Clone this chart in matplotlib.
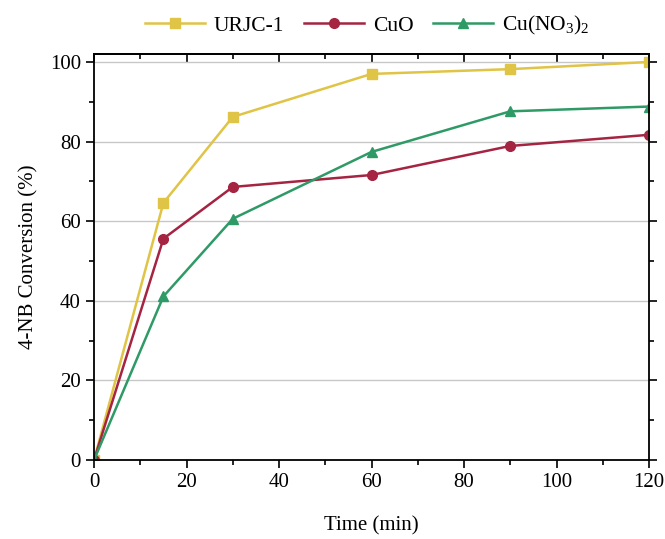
import matplotlib.pyplot as plt
from matplotlib.ticker import MultipleLocator, NullFormatter

plt.rcParams["font.family"] = ["Liberation Serif", "DejaVu Serif"]
plt.rcParams["mathtext.fontset"] = "custom"
plt.rcParams["mathtext.rm"] = "Liberation Serif"
plt.rcParams["mathtext.default"] = "regular"

time_min = [0, 15, 30, 60, 90, 120]
urjc1 = [0, 64.6, 86.2, 97.0, 98.2, 100.0]
cuo = [0, 55.6, 68.6, 71.6, 78.9, 81.7]
cu_no3 = [0, 41.1, 60.6, 77.4, 87.6, 88.8]

series = [
    ("URJC-1", urjc1, "#E0C445", "s"),
    ("CuO", cuo, "#A42442", "o"),
    ("Cu(NO$_3$)$_2$", cu_no3, "#2E9A66", "^"),
]

fig = plt.figure(figsize=(6.65, 5.39), dpi=100)
ax = fig.add_axes([0.1414, 0.1466, 0.8346, 0.7532])

for label, vals, color, marker in series:
    ax.plot(time_min, vals, color=color, marker=marker, ms=7, lw=1.8, label=label)

ax.set_xlim(0, 120)
ax.set_ylim(0, 102)
ax.xaxis.set_major_locator(MultipleLocator(20))
ax.xaxis.set_minor_locator(MultipleLocator(10))
ax.yaxis.set_major_locator(MultipleLocator(20))
ax.yaxis.set_minor_locator(MultipleLocator(10))

ax.grid(True, axis="y", which="major", color="#c8c8c8", lw=1)
ax.set_axisbelow(True)

ax.tick_params(axis="both", which="both", direction="out", labelsize=15,
               width=1.2, right=True)
ax.tick_params(axis="both", which="major", length=6)
ax.tick_params(axis="both", which="minor", length=3.5)
for s in ax.spines.values():
    s.set_linewidth(1.3)

# top axis: ticks pointing inward, no labels
top = ax.secondary_xaxis("top")
top.xaxis.set_major_locator(MultipleLocator(20))
top.xaxis.set_minor_locator(MultipleLocator(10))
top.xaxis.set_major_formatter(NullFormatter())
top.tick_params(axis="x", which="both", direction="in", width=1.2)
top.tick_params(axis="x", which="major", length=6)
top.tick_params(axis="x", which="minor", length=3.5)
top.spines["top"].set_linewidth(1.3)

ax.set_xlabel("Time (min)", fontsize=15, labelpad=17)
ax.set_ylabel("4-NB Conversion (%)", fontsize=15, labelpad=8)

fig.legend(loc="upper center", bbox_to_anchor=(0.552, 1.01), ncol=3,
           frameon=False, fontsize=15.5, handlelength=2.8, columnspacing=0.9,
           handletextpad=0.4)

plt.savefig("out.png", dpi=100)
